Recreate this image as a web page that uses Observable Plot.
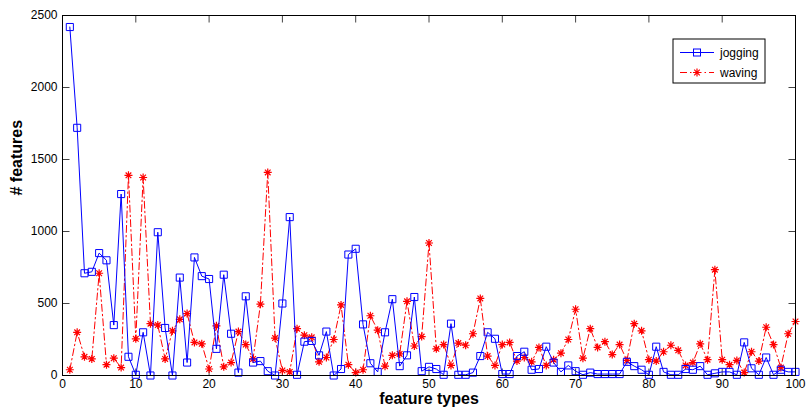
<!DOCTYPE html>
<html><head><meta charset="utf-8">
<script src="https://cdn.jsdelivr.net/npm/d3@7"></script>
<script src="https://cdn.jsdelivr.net/npm/@observablehq/plot@0.6"></script>
<style>
body{margin:0;background:#fff;font-family:"Liberation Sans",Arial,sans-serif}
#wrap{position:relative;width:806px;height:413px}
#legend{position:absolute;left:672px;top:38px}
</style></head><body><div id="wrap"></div>
<script>
const featureType = Array.from({length: 100}, (_, i) => i + 1);
const jogging = [2420,1720,710,720,850,800,350,1260,130,5,
  300,0,995,330,0,680,90,820,690,670,
  185,700,290,20,550,90,100,30,0,500,
  1100,5,235,240,140,305,0,45,840,880,
  355,85,25,300,530,65,140,545,30,60,
  45,5,360,5,5,20,135,300,255,10,
  10,135,165,40,45,200,90,25,70,30,
  5,20,10,10,10,10,95,65,40,5,
  200,25,5,5,45,40,65,5,15,25,
  25,5,230,50,5,125,5,40,25,25];
const waving = [40,300,130,115,710,75,120,55,1390,255,
  1375,360,350,115,310,390,430,230,220,45,
  345,60,90,305,215,115,495,1410,260,35,
  25,325,280,265,95,125,250,490,75,20,
  40,415,315,65,140,150,515,205,270,920,
  185,215,70,225,210,290,535,135,70,215,
  230,100,125,95,195,70,110,155,250,460,
  120,325,195,235,145,215,105,360,310,110,
  100,165,210,175,70,90,220,110,735,110,
  75,105,20,165,100,335,215,55,290,375];
const xTicks = [0,10,20,30,40,50,60,70,80,90,100];
const yTicks = [0,500,1000,1500,2000,2500];
const seriesNames = ["jogging","waving"];

const data = featureType.map((t, i) => ({t, jogging: jogging[i], waving: waving[i]}));

const asterisk8 = {draw(ctx, size) {
  const r = Math.sqrt(size / Math.PI), d = r * Math.SQRT1_2;
  ctx.moveTo(-r, 0); ctx.lineTo(r, 0);
  ctx.moveTo(0, -r); ctx.lineTo(0, r);
  ctx.moveTo(-d, -d); ctx.lineTo(d, d);
  ctx.moveTo(-d, d); ctx.lineTo(d, -d);
}};
const TL = 7;
const tickUp = {draw(ctx) { ctx.moveTo(0, 0); ctx.lineTo(0, -TL); }};
const tickDown = {draw(ctx) { ctx.moveTo(0, 0); ctx.lineTo(0, TL); }};
const tickRight = {draw(ctx) { ctx.moveTo(0, 0); ctx.lineTo(TL, 0); }};
const tickLeft = {draw(ctx) { ctx.moveTo(0, 0); ctx.lineTo(-TL, 0); }};

const tickStyle = {fill: "none", stroke: "#444", strokeWidth: 1, r: 4};

const chart = Plot.plot({
  width: 806, height: 413,
  marginLeft: 62, marginRight: 11, marginTop: 15, marginBottom: 38,
  style: {fontFamily: "Liberation Sans, Arial, sans-serif", fontSize: "12px", color: "black", background: "white"},
  x: {domain: [0, 100], axis: null},
  y: {domain: [0, 2500], axis: null},
  marks: [
    Plot.dot(xTicks, {x: d => d, frameAnchor: "bottom", symbol: tickUp, ...tickStyle}),
    Plot.dot(xTicks, {x: d => d, frameAnchor: "top", symbol: tickDown, ...tickStyle}),
    Plot.dot(yTicks, {y: d => d, frameAnchor: "left", symbol: tickRight, ...tickStyle}),
    Plot.dot(yTicks, {y: d => d, frameAnchor: "right", symbol: tickLeft, ...tickStyle}),
    Plot.line(data, {x: "t", y: "waving", stroke: "#ff0000", strokeWidth: 1, strokeDasharray: "7,3,1.5,3"}),
    Plot.dot(data, {x: "t", y: "waving", symbol: asterisk8, r: 4, stroke: "#ff0000", fill: "none", strokeWidth: 1.2}),
    Plot.line(data, {x: "t", y: "jogging", stroke: "#0000ff", strokeWidth: 1}),
    Plot.dot(data, {x: "t", y: "jogging", symbol: "square", r: 4, stroke: "#0000ff", fill: "none", strokeWidth: 1}),
    Plot.axisX({ticks: xTicks, anchor: "bottom", tickSize: 0, tickPadding: 4, fontSize: 12, tickFormat: d3.format("d"), label: null}),
    Plot.axisY({ticks: yTicks, anchor: "left", tickSize: 0, tickPadding: 5, fontSize: 12, tickFormat: d3.format("d"), label: null}),
    Plot.frame({stroke: "black", strokeWidth: 1}),
    Plot.text(["feature types"], {frameAnchor: "bottom", dy: 28, fontWeight: "bold", fontSize: 16, text: d => d}),
    Plot.text(["# features"], {frameAnchor: "left", dx: -46, rotate: -90, fontWeight: "bold", fontSize: 16, text: d => d})
  ]
});
const wrap = document.getElementById("wrap");
wrap.appendChild(chart);

// legend
const ns = "http://www.w3.org/2000/svg";
const lg = document.createElementNS(ns, "svg");
lg.setAttribute("id", "legend");
lg.setAttribute("width", "95");
lg.setAttribute("height", "47");
lg.innerHTML = `
<rect x="1" y="1" width="92" height="44" fill="white" stroke="black" stroke-width="1"/>
<line x1="8" x2="42" y1="14.5" y2="14.5" stroke="#0000ff"/>
<rect x="21.5" y="11" width="7" height="7" fill="none" stroke="#0000ff"/>
<text x="48" y="14.5" dy="0.35em" font-size="12" font-family="Liberation Sans, Arial, sans-serif">${seriesNames[0]}</text>
<line x1="8" x2="42" y1="34.5" y2="34.5" stroke="#ff0000" stroke-dasharray="7,3,1.5,3"/>
<path d="M21,34.5h8M25,30.5v8M22.2,31.7l5.6,5.6M22.2,37.3l5.6,-5.6" stroke="#ff0000" stroke-width="1.2" fill="none"/>
<text x="48" y="34.5" dy="0.35em" font-size="12" font-family="Liberation Sans, Arial, sans-serif">${seriesNames[1]}</text>`;
wrap.appendChild(lg);
</script></body></html>
